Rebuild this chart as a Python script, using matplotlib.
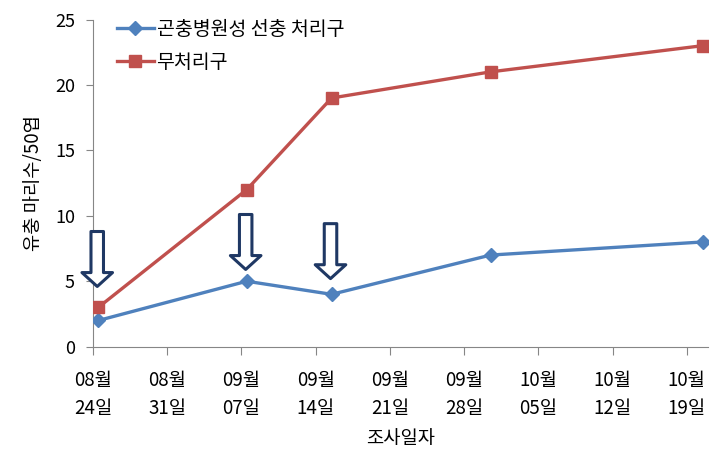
import numpy as np
import pandas as pd
import matplotlib
matplotlib.use("Agg")
import matplotlib.pyplot as plt

plt.rcParams['font.family'] = ['Noto Sans CJK KR', 'DejaVu Sans']

# survey dates and larvae counts per 50 leaves
dates = ["2013-08-24", "2013-09-07", "2013-09-15", "2013-09-30", "2013-10-20"]
treated = [2, 5, 4, 7, 8]
control = [3, 12, 19, 21, 23]
names = ["곤충병원성 선충 처리구", "무처리구"]

# nematode application dates (arrows) and arrow tip heights
spray_dates = ["2013-08-24", "2013-09-07", "2013-09-15"]
arrow_tips = [4.6, 5.9, 5.2]
arrow_len = 4.2

tick_dates = pd.date_range("2013-08-24", "2013-10-19", freq="7D")

start = pd.Timestamp("2013-08-24")
days = [(pd.Timestamp(d) - start).days + 0.5 for d in dates]
sdays = [(pd.Timestamp(d) - start).days + 0.4 for d in spray_dates]
tdays = [(d - start).days for d in tick_dates]
tlabels = [d.strftime("%m월\n%d일") for d in tick_dates]

fig = plt.figure(figsize=(7.22, 4.61), dpi=100)
ax = fig.add_axes([0.1288, 0.248, 0.8518, 0.7097])

ax.plot(days, treated, color="#4F81BD", lw=2.4, marker="D", ms=7, label=names[0], zorder=3)
ax.plot(days, control, color="#C0504D", lw=2.4, marker="s", ms=8.5, label=names[1], zorder=3)

for x, tip in zip(sdays, arrow_tips):
    ax.annotate("", xy=(x, tip), xytext=(x, tip + arrow_len),
                arrowprops=dict(arrowstyle="simple,head_width=2.2,head_length=1.0,tail_width=0.9",
                                fc="white", ec="#1F3864", lw=2.2, mutation_scale=10,
                                shrinkA=0, shrinkB=0), zorder=4)

ax.set_xlim(0, 58)
ax.set_ylim(0, 25)
ax.set_yticks([0, 5, 10, 15, 20, 25])
ax.set_xticks(tdays)
ax.set_xticklabels(tlabels, fontsize=13.5, linespacing=1.45)
ax.tick_params(axis="y", labelsize=13, length=5, color="#868686", pad=8)
ax.tick_params(axis="x", length=6, color="#868686", pad=11)

for s in ["top", "right"]:
    ax.spines[s].set_visible(False)
for s in ["left", "bottom"]:
    ax.spines[s].set_color("#868686")

ax.set_xlabel("조사일자", fontsize=13.5, labelpad=6)
ax.set_ylabel("유충 마리수/50엽", fontsize=13.5, labelpad=8)

ax.legend(loc="upper left", bbox_to_anchor=(0.01, 1.055), frameon=False, fontsize=14,
          handlelength=1.9, handletextpad=0.15, labelspacing=0.6)

fig.savefig("out.png", dpi=100)
